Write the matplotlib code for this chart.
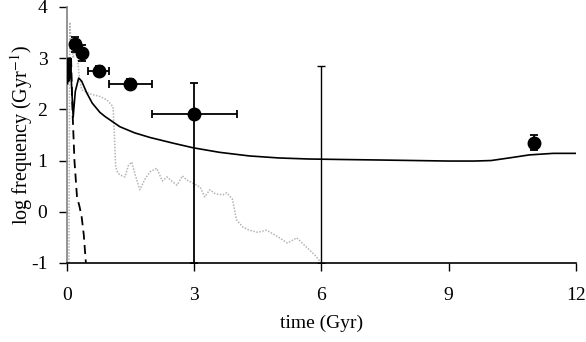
import numpy as np
import matplotlib.pyplot as plt

plt.rcParams['font.family'] = ['Liberation Serif', 'DejaVu Serif']
plt.rcParams['mathtext.fontset'] = 'stix'
plt.rcParams['axes.unicode_minus'] = False

# Observed rates (points with error bars)
obs_t = [0.2, 0.35, 0.75, 1.5, 3.0, 11.0]
obs_y = [3.27, 3.1, 2.75, 2.5, 1.9, 1.35]
obs_xerr = [0.0, 0.0, 0.25, 0.5, 1.0, 0.0]
obs_ylo = [0.15, 0.15, 0.1, 0.1, 2.9, 0.14]
obs_yhi = [0.15, 0.15, 0.1, 0.1, 0.62, 0.14]

# Upper limit at 6 Gyr
lim_t = [6.0]
lim_y = [-1.0]
lim_yhi = [3.85]

# Solid model curve
solid_t = [0.02, 0.03, 0.045, 0.06, 0.075, 0.09, 0.11, 0.15, 0.2, 0.28, 0.35, 0.47, 0.6,
           0.78, 0.9, 1.25, 1.6, 1.96, 2.5, 2.97, 3.6, 4.3, 5.0, 5.7, 6.5, 7.4, 8.2,
           9.0, 9.6, 10.0, 10.5, 10.9, 11.46, 12.0]
solid_y = [2.5, 3.0, 2.55, 3.0, 2.6, 3.0, 2.5, 1.85, 2.35, 2.61, 2.55, 2.32, 2.12,
           1.94, 1.86, 1.66, 1.54, 1.45, 1.34, 1.25, 1.16, 1.09, 1.05, 1.03, 1.02, 1.01, 1.0,
           0.99, 0.99, 1.0, 1.06, 1.11, 1.14, 1.14]

# Dashed model curve
dash_t = [0.1, 0.12, 0.14, 0.18, 0.24, 0.3, 0.35, 0.4, 0.45]
dash_y = [3.0, 2.4, 1.85, 1.0, 0.29, 0.1, -0.1, -0.45, -1.0]

# Gray dotted curve
dot_t = [0.05, 0.06, 0.07, 0.1, 0.15, 0.2, 0.25, 0.3, 0.35, 0.55, 0.78, 0.95, 1.09, 1.12,
         1.15, 1.2, 1.25, 1.37, 1.45, 1.53, 1.62, 1.72, 1.85, 1.96, 2.12, 2.25, 2.36,
         2.5, 2.6, 2.72, 2.83, 2.97, 3.14, 3.25, 3.37, 3.5, 3.68, 3.77, 3.9, 4.0, 4.15,
         4.3, 4.5, 4.7, 4.9, 5.2, 5.42, 5.66, 5.85, 6.0]
dot_y = [-1.0, 1.5, 3.7, 3.3, 3.0, 3.2, 3.0, 2.6, 2.38, 2.3, 2.25, 2.18, 2.05, 1.54,
         0.88, 0.76, 0.72, 0.68, 0.9, 0.97, 0.7, 0.43, 0.65, 0.78, 0.85, 0.6, 0.68,
         0.58, 0.52, 0.7, 0.62, 0.56, 0.48, 0.29, 0.43, 0.35, 0.33, 0.37, 0.25, -0.16, -0.3,
         -0.36, -0.4, -0.36, -0.45, -0.61, -0.51, -0.7, -0.85, -1.0]

fig, ax = plt.subplots(figsize=(5.86, 3.42), dpi=100)
fig.subplots_adjust(left=0.114, right=0.983, top=0.98, bottom=0.231)

ax.plot(dot_t, dot_y, color='#b4b4b4', linestyle=(0, (1, 1)), linewidth=1.1, zorder=2)
ax.plot(solid_t, solid_y, color='black', linewidth=1.2, zorder=3)
ax.plot(dash_t, dash_y, color='black', linestyle=(0, (5, 3)), linewidth=1.3, zorder=3)

ax.errorbar(obs_t, obs_y, xerr=obs_xerr, yerr=[obs_ylo, obs_yhi], fmt='o', color='black',
            markersize=9, elinewidth=1.3, capsize=3, capthick=1.3, zorder=4)
ax.errorbar(lim_t, lim_y, yerr=[[0], lim_yhi], fmt='none', ecolor='black',
            elinewidth=1.0, capsize=3, capthick=1.0, zorder=4)

ax.set_xlim(0, 12)
ax.set_ylim(-1, 4)
ax.set_xticks([0, 3, 6, 9, 12])
ax.set_yticks([-1, 0, 1, 2, 3, 4])
ax.spines['top'].set_visible(False)
ax.spines['right'].set_visible(False)
ax.spines['left'].set_color('#808080')
ax.spines['left'].set_linewidth(1.2)
ax.spines['bottom'].set_linewidth(1.2)
ax.tick_params(axis='both', labelsize=14, length=6, width=1.0)
ax.tick_params(axis='x', pad=11)
ax.tick_params(axis='y', pad=8)

ax.set_xlabel('time (Gyr)', fontsize=14, labelpad=8)
ax.set_ylabel('log frequency (Gyr$^{\\mathrm{-1}}$)', fontsize=14.5)
ax.yaxis.set_label_coords(-0.062, 0.5)

fig.savefig('out.png', dpi=100)
